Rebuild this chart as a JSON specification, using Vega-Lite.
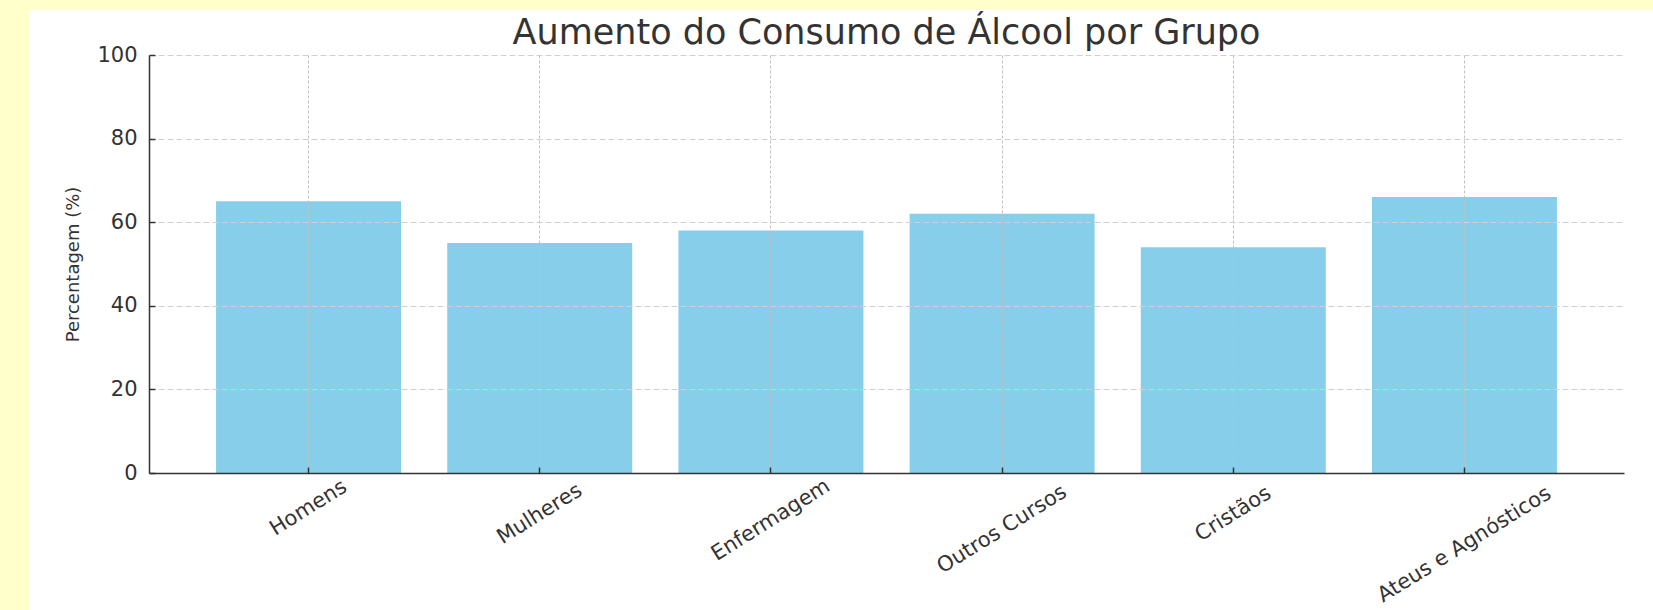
{
  "$schema": "https://vega.github.io/schema/vega-lite/v6.json",
  "background": "white",
  "padding": 0,
  "config": {"view": {"stroke": null}},
  "spacing": 0,
  "bounds": "flush",
  "vconcat": [
    {"data": {"values": []}, "mark": "rect", "width": 1653, "height": 10, "view": {"fill": "#ffffcc"}},
    {
      "spacing": 24,
      "bounds": "flush",
      "hconcat": [
        {
          "spacing": 122,
          "bounds": "flush",
          "hconcat": [
            {"data": {"values": []}, "mark": "rect", "width": 27, "height": 600, "view": {"fill": "#ffffcc"}},
            {
              "spacing": 20,
              "bounds": "flush",
              "vconcat": [
                {"data": {"values": []}, "mark": "rect", "width": 1475, "height": 25},
                {
                  "width": 1475,
                  "height": 418,
                  "data": {"values": [
                    {"grupo": "Homens", "percentagem": 65},
                    {"grupo": "Mulheres", "percentagem": 55},
                    {"grupo": "Enfermagem", "percentagem": 58},
                    {"grupo": "Outros Cursos", "percentagem": 62},
                    {"grupo": "Cristãos", "percentagem": 54},
                    {"grupo": "Ateus e Agnósticos", "percentagem": 66}
                  ]},
                  "title": {"text": "Aumento do Consumo de Álcool por Grupo", "font": "DejaVu Sans", "fontSize": 35, "fontWeight": "normal", "color": "#333333", "frame": "group", "anchor": "middle", "baseline": "alphabetic", "offset": 8, "dy": 43},
                  "encoding": {
                    "x": {
                      "field": "grupo", "type": "nominal", "sort": null, "title": null,
                      "scale": {"paddingInner": 0.2, "paddingOuter": 0.29},
                      "axis": {
                        "labels": false,
                        "grid": true, "gridDash": [3, 2], "gridColor": "#c0c0c0",
                        "tickSize": -6, "tickColor": "#333333", "tickWidth": 1.5,
                        "domainColor": "#333333", "domainWidth": 1.5, "zindex": 1
                      }
                    }
                  },
                  "layer": [
                    {
                      "mark": {"type": "bar", "color": "#87ceeb"},
                      "encoding": {
                        "y": {
                          "field": "percentagem", "type": "quantitative", "title": "Percentagem (%)",
                          "scale": {"domain": [0, 100], "nice": false},
                          "axis": {
                            "values": [0, 20, 40, 60, 80, 100],
                            "labelFont": "DejaVu Sans", "labelFontSize": 21, "labelColor": "#333333", "labelPadding": 18,
                            "tickSize": -6, "tickColor": "#333333", "tickWidth": 1.5,
                            "domainColor": "#333333", "domainWidth": 1.5,
                            "grid": true, "gridDash": [6, 3], "gridColor": "#d0d0d0",
                            "titleFont": "DejaVu Sans", "titleFontSize": 18, "titleFontWeight": "normal", "titleColor": "#333333", "titlePadding": 14,
                            "zindex": 1
                          }
                        }
                      }
                    },
                    {
                      "mark": {
                        "type": "text", "angle": 328, "align": "center", "baseline": "middle",
                        "font": "DejaVu Sans", "fontSize": 21, "color": "#333333",
                        "dx": {"expr": "-(1.62*length(datum.grupo)+8.84)"},
                        "dy": {"expr": "2.6*length(datum.grupo)+14.14"}
                      },
                      "encoding": {
                        "y": {"datum": 0, "type": "quantitative", "title": "Percentagem (%)"},
                        "text": {"field": "grupo"}
                      }
                    }
                  ]
                }
              ]
            }
          ]
        },
        {"data": {"values": []}, "mark": "rect", "width": 5, "height": 600, "view": {"fill": "#ffffcc"}}
      ]
    }
  ]
}
